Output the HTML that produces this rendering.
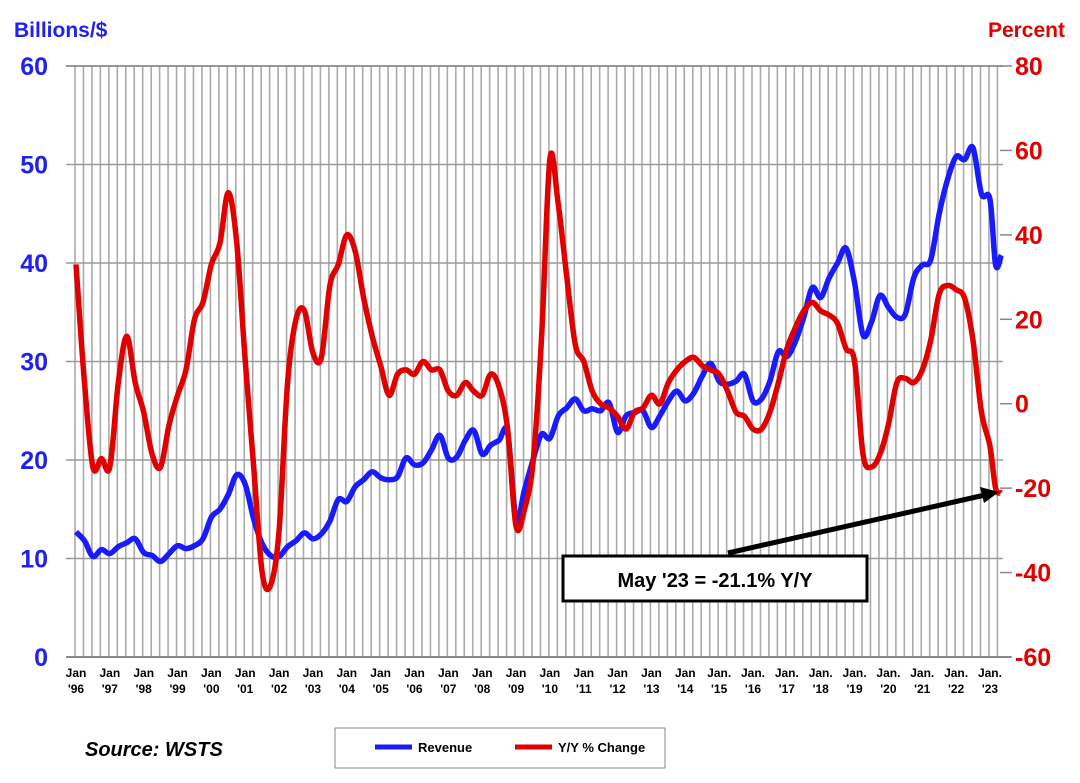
<!DOCTYPE html>
<html><head><meta charset="utf-8"><style>
body{margin:0;background:#fff;}
svg{display:block;font-family:"Liberation Sans",Arial,sans-serif;}
</style></head><body>
<svg id="chart" width="1080" height="783" viewBox="0 0 1080 783" xmlns="http://www.w3.org/2000/svg">
<g id="grid"></g>
<g id="axes"></g>
<g id="series"></g>
<text x="14" y="37" font-size="21" font-weight="bold" fill="#2020f0">Billions/$</text>
<text x="1065" y="37" font-size="21" font-weight="bold" fill="#e00000" text-anchor="end">Percent</text>
<g>
<line x1="728" y1="553" x2="985" y2="495" stroke="#000" stroke-width="5"/>
<polygon points="999,492 980,487 984,503" fill="#000"/>
<rect x="563" y="556" width="304" height="45" fill="#fff" stroke="#000" stroke-width="3"/>
<text x="715" y="587" font-size="20" font-weight="bold" text-anchor="middle">May '23 = -21.1% Y/Y</text>
</g>
<text x="85" y="756" font-size="20" font-weight="bold" font-style="italic">Source: WSTS</text>
<g>
<rect x="335" y="728" width="330" height="40" fill="#fff" stroke="#888" stroke-width="1"/>
<line x1="375" y1="747" x2="412" y2="747" stroke="#1a1aff" stroke-width="5"/>
<text x="418" y="752" font-size="13" font-weight="bold">Revenue</text>
<line x1="515" y1="747" x2="552" y2="747" stroke="#e00000" stroke-width="5"/>
<text x="558" y="752" font-size="13" font-weight="bold">Y/Y % Change</text>
</g>
</svg>
<script>
const revMonths = [];
const revenue = [12.7,11.8,10.2,10.9, 10.5,11.2,11.6,12.0, 10.6,10.3,9.7,10.5, 11.3,11.0,11.3,12.0, 14.2,15.0,16.5,18.5, 17.5,14.0,11.5,10.3, 10.2,11.2,11.8,12.6, 12.0,12.5,13.8,16.0, 15.8,17.3,18.0,18.8, 18.2,18.0,18.3,20.2, 19.5,19.7,21.0,22.5, 20.2,20.3,22.0,23.0, 20.6,21.5,22.0,22.8, 14.0,17.0,20.0,22.6, 22.2,24.5,25.3,26.2, 25.0,25.2,25.0,25.8, 22.8,24.5,24.8,25.0, 23.3,24.5,26.0,27.0, 26.0,26.8,28.5,29.8, 28.0,27.7,28.0,28.7, 26.0,26.2,28.0,31.0, 30.5,32.0,34.5,37.5, 36.5,38.5,40.0,41.5, 38.0,32.7,34.0,36.7, 35.5,34.5,34.8,38.5, 39.8,40.3,45.0,48.5, 50.8,50.5,51.7,47.0, 46.5,39.8,40.8];
const yoy = [33,5,-15,-13, -15,5,16,5, -2,-12,-15,-5, 2,8,20,24, 33,38,50,38, 10,-15,-40,-43, -30,5,20,22, 12,11,28,33, 40,36,25,16, 9,2,7,8, 7,10,8,8, 3,2,5,3, 2,7,4,-6, -29,-25,-14,15, 58,47,30,14, 10,3,0,-1, -3,-6,-2,-1, 2,0,5,8, 10,11,9,8, 7,3,-2,-3, -6,-6,-2,5, 13,18,22,24, 22,21,19,13, 10,-12,-15,-12, -5,5,6,5, 8,15,26,28, 27,25,15,-2, -10,-20,-21.1];
for(let i=0;i<revenue.length-3;i++) revMonths.push(i*3);
revMonths.push(324, 326, 328);
const yearLabels = [];
for(let y=1996;y<=2023;y++) yearLabels.push(y);
const leftTicks=[0,10,20,30,40,50,60];
const rightTicks=[-60,-40,-20,0,20,40,60,80];

const NS="http://www.w3.org/2000/svg";
const X0=76, YEARW=33.85, L=66, R=1003, T=66, B=657;
const xm = m => X0 + m*YEARW/12;
const yl = v => B - (v/60)*(B-T);
const yr = v => B - ((v+60)/140)*(B-T);
function mk(tag,attrs,parent){const e=document.createElementNS(NS,tag);for(const k in attrs)e.setAttribute(k,attrs[k]);parent.appendChild(e);return e;}
const grid=document.getElementById('grid'), axes=document.getElementById('axes'), series=document.getElementById('series');
for(let m=0; xm(m)<=R; m+=3){
  const l=mk('line',{x1:xm(m)-1,x2:xm(m)-1,y1:T,y2:B,stroke:'#aaa','stroke-width':1.6},grid);
  
  
}
leftTicks.forEach(v=>{
  const l=mk('line',{x1:L,x2:R,y1:yl(v),y2:yl(v),stroke:'#999','stroke-width':1.5},grid);
  
  
  const t=mk('text',{x:48,y:yl(v)+9,'font-size':25,'font-weight':'bold',fill:'#2020f0','text-anchor':'end'},axes);
  t.textContent=v;
  
  
});
rightTicks.forEach(v=>{
  const l=mk('line',{x1:R-3,x2:R+9,y1:yr(v),y2:yr(v),stroke:'#888','stroke-width':1.5},axes);
  
  
  const t=mk('text',{x:1015,y:yr(v)+9,'font-size':25,'font-weight':'bold',fill:'#e00000'},axes);
  t.textContent=v;
  
  
});
yearLabels.forEach(y=>{
  const x=xm((y-1996)*12);
  const t1=mk('text',{x:x,y:677,'font-size':12,'font-weight':'bold','text-anchor':'middle'},axes);
  t1.textContent = y>=2015 ? 'Jan.' : 'Jan';
  
  
  const t2=mk('text',{x:x,y:693,'font-size':12,'font-weight':'bold','text-anchor':'middle'},axes);
  t2.textContent="'"+String(y).slice(2);
  
  
});
function smooth(pts){
  let d='M'+pts[0][0].toFixed(1)+','+pts[0][1].toFixed(1);
  for(let i=0;i<pts.length-1;i++){
    const p0=pts[Math.max(0,i-1)],p1=pts[i],p2=pts[i+1],p3=pts[Math.min(pts.length-1,i+2)];
    const c1=[p1[0]+(p2[0]-p0[0])/6,p1[1]+(p2[1]-p0[1])/6];
    const c2=[p2[0]-(p3[0]-p1[0])/6,p2[1]-(p3[1]-p1[1])/6];
    d+=' C'+c1[0].toFixed(1)+','+c1[1].toFixed(1)+' '+c2[0].toFixed(1)+','+c2[1].toFixed(1)+' '+p2[0].toFixed(1)+','+p2[1].toFixed(1);
  }
  return d;
}
const revLine=mk('path',{d:smooth(revenue.map((v,i)=>[xm(revMonths[i]),yl(v)])),fill:'none',stroke:'#1a1aff','stroke-width':5.5,'stroke-linejoin':'round'},series);


const yoyLine=mk('path',{d:smooth(yoy.map((v,i)=>[xm(revMonths[i]),yr(v)])),fill:'none',stroke:'#e00000','stroke-width':5.5,'stroke-linejoin':'round'},series);


mk('line',{x1:L,x2:R+8,y1:B,y2:B,stroke:'#888','stroke-width':2},axes);
mk('line',{x1:L,x2:R,y1:T,y2:T,stroke:'#888','stroke-width':1.5},axes);
</script>
</body></html>
